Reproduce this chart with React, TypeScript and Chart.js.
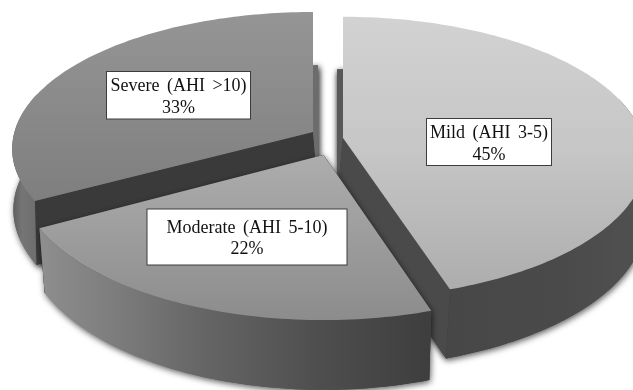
import React, { useEffect, useRef } from "react";
import { Chart, registerables } from "chart.js";

Chart.register(...registerables);

// Sleep apnea severity shares, in the order they run clockwise from twelve o'clock.
const categories = ["Mild (AHI 3-5)", "Moderate (AHI 5-10)", "Severe (AHI >10)"];
const shares = [45, 22, 33];

// Each wedge is pulled out of the pie on its own and seen in perspective.
// ox/oy shift its tip from the chart centre, sx/sy stretch the radius, p is the perspective strength,
// drop is the wall height, lean and taper slide the lower edge sideways.
const wedgeViews = [
  { ox: 26.5, oy: -57, sx: 1.54, sy: 0.708, p: 0.139, drop: 60, lean: -6, taper: 0.02 },
  { ox: 7, oy: -40, sx: 1.55, sy: 0.728, p: 0.14, drop: 60, lean: 0, taper: -0.018 },
  { ox: -3.5, oy: -63, sx: 1.531, sy: 0.691, p: 0.123, drop: 60, lean: 5, taper: 0.0125 },
];

// Lit top surfaces, as vertical gradients (y, colour).
const topShades: [number, string][][] = [
  [[17, "#d2d2d2"], [150, "#c6c6c6"], [290, "#adadad"]],
  [[155, "#adadad"], [320, "#8c8c8c"]],
  [[12, "#959595"], [205, "#7e7e7e"]],
];
// Outer rim walls, as horizontal gradients (x, colour).
const rimShades: [number, string][][] = [
  [[448, "#474747"], [560, "#4a4a4a"], [633, "#505050"]],
  [[40, "#8e8e8e"], [110, "#7e7e7e"], [200, "#666666"], [320, "#4e4e4e"], [430, "#3e3e3e"]],
  [[12, "#5c5c5c"], [22, "#757575"], [40, "#6c6c6c"]],
];
// Flat cut faces: [leading edge, trailing edge].
const cutShades = [
  ["#585858", "#4a4a4a"],
  ["#444444", "#444444"],
  ["#3a3a3a", "#6c6c6c"],
];
const labelBoxes = [
  { left: 426.5, top: 118.5, width: 125, height: 47, first: -3.7, second: 18 },
  { left: 147, top: 209, width: 200, height: 56, first: -4.3, second: 17 },
  { left: 106.5, top: 71.5, width: 144, height: 47.5, first: -4.5, second: 17.5 },
];

type Pt = [number, number];

const threeDPie = {
  id: "threeDPie",
  beforeDatasetsDraw(chart: any) {
    const ctx: CanvasRenderingContext2D = chart.ctx;
    const arcs = chart.getDatasetMeta(0).data;
    // Back wedges first, so that the front wedge covers their cut faces.
    [2, 0, 1].forEach((i) => {
      const arc = arcs[i];
      const view = wedgeViews[i];
      const R = arc.outerRadius;
      const tipX = arc.x + view.ox;
      const tipY = arc.y + view.oy;
      const a0 = arc.startAngle + Math.PI / 2;
      const a1 = arc.endAngle + Math.PI / 2;

      const project = (r: number, t: number, low: boolean): Pt => {
        const X = r * Math.sin(t);
        const Y = -r * Math.cos(t);
        const w = 1 - view.p * Y;
        const px = tipX + (R * view.sx * X) / w;
        const py = tipY + (R * view.sy * Y) / w;
        return low ? [px + view.lean + view.taper * (px - tipX), py + view.drop / w] : [px, py];
      };
      const sweep = (low: boolean, frontOnly: boolean): Pt[] => {
        const n = Math.ceil((a1 - a0) / 0.02);
        const out: Pt[] = [];
        for (let k = 0; k <= n; k++) {
          const t = a0 + ((a1 - a0) * k) / n;
          // The far part of the rim is hidden behind the top surface.
          if (!frontOnly || Math.cos(t) < 0.3) out.push(project(1, t, low));
        }
        return out;
      };
      const fill = (pts: Pt[], style: string | CanvasGradient) => {
        ctx.beginPath();
        pts.forEach((q, k) => (k ? ctx.lineTo(q[0], q[1]) : ctx.moveTo(q[0], q[1])));
        ctx.closePath();
        ctx.fillStyle = style;
        ctx.fill();
      };
      // A cut face seen from behind the rim only shows below the lower rim line.
      const face = (t: number): Pt[] => {
        const top = project(1, t, false);
        const low = project(1, t, true);
        const tipTop = project(0, t, false);
        const tipLow = project(0, t, true);
        const startY = Math.cos(t) > 0 ? low[1] : top[1];
        return [tipTop, [top[0], startY], low, tipLow];
      };
      const topRim = sweep(false, false);
      const lowRim = sweep(true, false);
      const tipTop = project(0, a0, false);
      const tipLow = project(0, a0, true);
      const wall = [...sweep(false, true), ...sweep(true, true).reverse()];
      const startFace = face(a0);
      const endFace = face(a1);

      const rx0 = rimShades[i][0][0];
      const rx1 = rimShades[i][rimShades[i].length - 1][0];
      const rimGrad = ctx.createLinearGradient(rx0, 0, rx1, 0);
      rimShades[i].forEach(([x, c]) => rimGrad.addColorStop((x - rx0) / (rx1 - rx0), c));

      // Soft drop shadow cast by the foot of the solid.
      ctx.save();
      ctx.shadowColor = "rgba(0,0,0,0.65)";
      ctx.shadowBlur = 6;
      ctx.shadowOffsetX = 1;
      ctx.shadowOffsetY = 2;
      fill([tipLow, ...lowRim], rimGrad);
      fill(startFace, cutShades[i][0]);
      fill(endFace, cutShades[i][1]);
      ctx.restore();

      fill(startFace, cutShades[i][0]);
      fill(endFace, cutShades[i][1]);
      fill(wall, rimGrad);

      const y0 = topShades[i][0][0];
      const y1 = topShades[i][topShades[i].length - 1][0];
      const topGrad = ctx.createLinearGradient(0, y0, 0, y1);
      topShades[i].forEach(([y, c]) => topGrad.addColorStop((y - y0) / (y1 - y0), c));
      fill([tipTop, ...topRim], topGrad);
    });
    return false;
  },
  afterDraw(chart: any) {
    const ctx: CanvasRenderingContext2D = chart.ctx;
    const values = chart.data.datasets[0].data;
    chart.data.labels.forEach((name: string, i: number) => {
      const b = labelBoxes[i];
      ctx.save();
      ctx.fillStyle = "#ffffff";
      ctx.strokeStyle = "#3c3c3c";
      ctx.lineWidth = 1;
      ctx.fillRect(b.left, b.top, b.width, b.height);
      ctx.strokeRect(b.left, b.top, b.width, b.height);
      ctx.fillStyle = "#111111";
      ctx.font = "18px 'Liberation Serif'";
      ctx.textAlign = "center";
      ctx.textBaseline = "alphabetic";
      (ctx as any).wordSpacing = "3px";
      const cx = b.left + b.width / 2;
      const cy = b.top + b.height / 2;
      ctx.fillText(name, cx, cy + b.first);
      ctx.fillText(`${values[i]}%`, cx, cy + b.second);
      ctx.restore();
    });
  },
};

export default function App() {
  const ref = useRef<HTMLCanvasElement>(null);
  useEffect(() => {
    document.body.style.margin = "0";
    document.body.style.background = "#ffffff";
    const chart = new Chart(ref.current!, {
      type: "pie",
      data: {
        labels: categories,
        datasets: [{ data: shares, borderWidth: 0, backgroundColor: ["#c6c6c6", "#9c9c9c", "#8a8a8a"] }],
      },
      options: {
        responsive: false,
        animation: false,
        layout: { padding: 0 },
        plugins: { legend: { display: false }, tooltip: { enabled: false } },
      },
      plugins: [threeDPie],
    });
    return () => chart.destroy();
  }, []);
  return <canvas ref={ref} width={633} height={390} style={{ display: "block" }} />;
}
